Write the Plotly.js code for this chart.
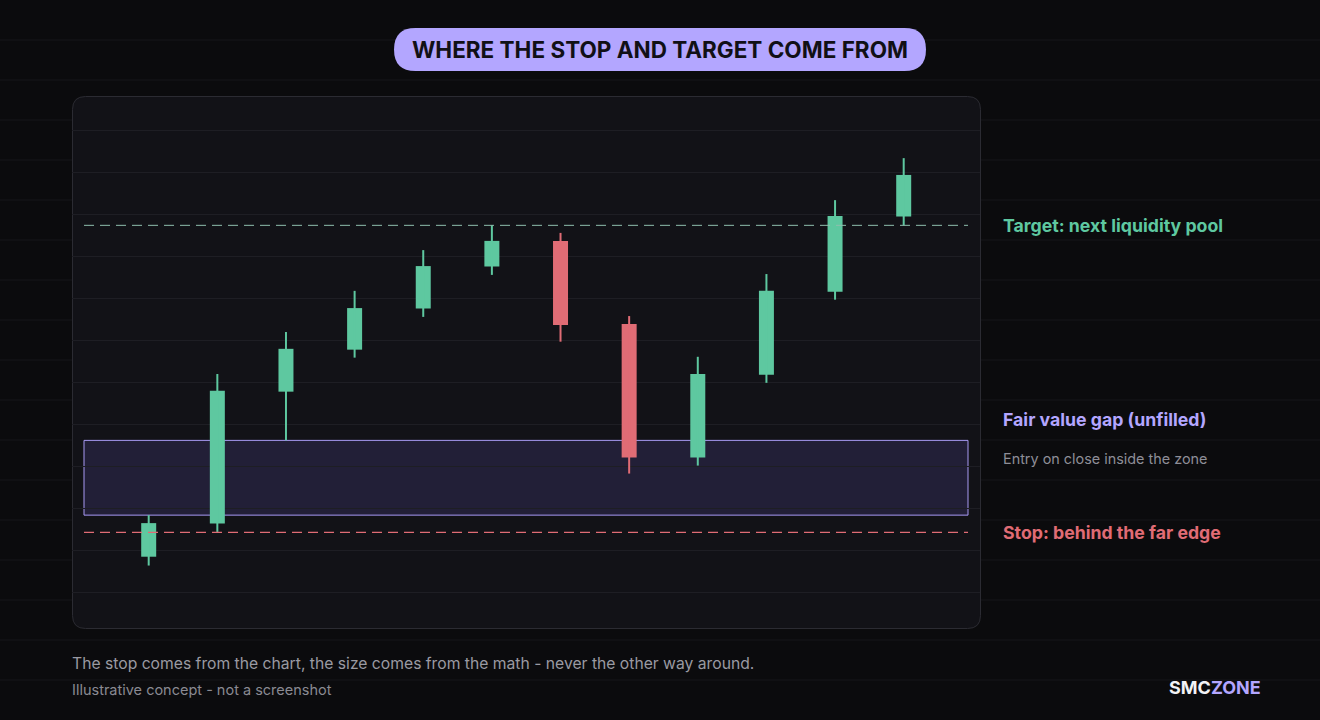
<!DOCTYPE html>
<html>
<head>
<meta charset="utf-8">
<script src="https://cdn.plot.ly/plotly-3.0.1.min.js"></script>
<style>
html, body { margin: 0; padding: 0; background: #0b0b0d; }
#chart { width: 1320px; height: 720px; }
</style>
</head>
<body>
<div id="chart"></div>
<script>
// candles, left to right (price units are arbitrary)
let candleIdx = [0, 1, 2, 3, 4, 5, 6, 7, 8, 9, 10, 11];
let opens  = [8.4, 16.3, 47.7, 57.7, 67.5, 77.5, 83.6, 63.8, 32.0, 51.7, 71.5, 89.4];
let highs  = [18.3, 51.9, 61.9, 71.7, 81.4, 87.3, 85.5, 65.7, 56.0, 75.7, 93.3, 103.3];
let lows   = [6.3, 14.3, 36.1, 55.8, 65.5, 75.5, 59.6, 28.2, 30.1, 49.8, 69.6, 87.3];
let closes = [16.4, 47.9, 57.9, 67.6, 77.6, 83.6, 63.6, 32.0, 51.9, 71.7, 89.5, 99.3];

// levels drawn over the candles
let fvgTop = 36.1;      // low of candle 3
let fvgBottom = 18.3;   // high of candle 1
let targetLevel = 87.3;
let stopLevel = 14.2;

// texts
let titleText = 'WHERE THE STOP AND TARGET COME FROM';
let targetLabel = 'Target: next liquidity pool';
let fvgLabel = 'Fair value gap (unfilled)';
let entryLabel = 'Entry on close inside the zone';
let stopLabel = 'Stop: behind the far edge';
let footNote = 'The stop comes from the chart, the size comes from the math - never the other way around.';
let subNote = 'Illustrative concept - not a screenshot';

const W = 1320, H = 720;
const GREEN = '#5ec8a0', RED = '#e06c75', PURPLE = '#b3a6ff';
const FONT = 'Inter, Roboto, sans-serif';

// pixel -> paper helpers (margins are zero so paper == page)
function px(x){ return x / W; }
function py(y){ return 1 - y / H; }

// rounded rectangle as an svg path in paper units
function roundRect(x0, y0, x1, y1, r){
    let rx = r / W, ry = r / H;
    let a = px(x0), b = px(x1), t = py(y0), d = py(y1);
    return 'M' + (a + rx) + ',' + t +
        ' L' + (b - rx) + ',' + t +
        ' Q' + b + ',' + t + ' ' + b + ',' + (t - ry) +
        ' L' + b + ',' + (d + ry) +
        ' Q' + b + ',' + d + ' ' + (b - rx) + ',' + d +
        ' L' + (a + rx) + ',' + d +
        ' Q' + a + ',' + d + ' ' + a + ',' + (d + ry) +
        ' L' + a + ',' + (t - ry) +
        ' Q' + a + ',' + t + ' ' + (a + rx) + ',' + t + ' Z';
}

// split into up / down candles
let up = candleIdx.filter(i => closes[i] >= opens[i]);
let down = candleIdx.filter(i => closes[i] < opens[i]);

function wickTrace(idx, color){
    let x = [], y = [];
    idx.forEach(i => {
        x.push(i, i, null);
        y.push(lows[i], highs[i], null);
    });
    return {
        x: x, y: y, type: 'scatter', mode: 'lines',
        line: {color: color, width: 2},
        hoverinfo: 'skip', showlegend: false
    };
}

let bodies = {
    x: candleIdx,
    y: candleIdx.map(i => Math.abs(closes[i] - opens[i])),
    base: candleIdx.map(i => Math.min(opens[i], closes[i])),
    type: 'bar',
    width: 0.2185,
    marker: {color: candleIdx.map(i => closes[i] >= opens[i] ? GREEN : RED), line: {width: 0}},
    hoverinfo: 'skip', showlegend: false
};

let shapes = [];

// faint page rules every 40px
for(let y = 40; y < H; y += 40){
    shapes.push({type: 'line', xref: 'paper', yref: 'paper', x0: 0, x1: 1, y0: py(y), y1: py(y),
        line: {color: '#17171b', width: 1}, layer: 'below'});
}

// chart panel
shapes.push({type: 'path', xref: 'paper', yref: 'paper', path: roundRect(72.5, 96.5, 980.5, 628.5, 13),
    fillcolor: '#121217', line: {color: '#2b2b32', width: 1}, layer: 'below'});

// title pill
shapes.push({type: 'path', xref: 'paper', yref: 'paper', path: roundRect(394, 28, 926, 71, 21.5),
    fillcolor: PURPLE, line: {width: 0}, layer: 'below'});

// fair value gap zone
shapes.push({type: 'rect', xref: 'x domain', yref: 'y', x0: 12 / 908, x1: 896 / 908,
    y0: fvgBottom, y1: fvgTop, fillcolor: '#221f37', line: {color: '#a89af5', width: 1}, layer: 'below'});

// target and stop lines
shapes.push({type: 'line', xref: 'x domain', yref: 'y', x0: 12 / 908, x1: 896 / 908,
    y0: targetLevel, y1: targetLevel, line: {color: '#8fbfae', width: 1, dash: '10px,6px'}, layer: 'above'});
shapes.push({type: 'line', xref: 'x domain', yref: 'y', x0: 12 / 908, x1: 896 / 908,
    y0: stopLevel, y1: stopLevel, line: {color: RED, width: 1.2, dash: '10px,6px'}, layer: 'above'});

function label(text, x, y, size, color, yref, opts){
    return Object.assign({
        text: text, x: x, y: y, xref: 'paper', yref: yref || 'paper',
        xanchor: 'left', yanchor: 'middle', showarrow: false,
        font: {family: FONT, size: size, color: color}
    }, opts || {});
}

let annotations = [
    label('<b>' + titleText + '</b>', px(660), py(49.5), 22.5, '#111016', null, {xanchor: 'center'}),
    label('<b>' + targetLabel + '</b>', px(1000.5), targetLevel, 17.7, GREEN, 'y'),
    label('<b>' + fvgLabel + '</b>', px(1000.5), py(419), 17.7, PURPLE),
    label(entryLabel, px(1000.5), py(458), 14.4, '#8e8e97'),
    label('<b>' + stopLabel + '</b>', px(1000.5), stopLevel, 17.7, RED, 'y'),
    label(footNote, px(70), py(663), 15.7, '#9a9aa2'),
    label(subNote, px(70), py(689), 14.5, '#8a8a92'),
    label('<b>SMC<span style="color:' + PURPLE + '">ZONE</span></b>', px(1263), py(687), 18, '#f2f2f5', null, {xanchor: 'right'})
];

let layout = {
    width: W, height: H,
    margin: {l: 0, r: 0, t: 0, b: 0, pad: 0},
    paper_bgcolor: '#0b0b0d',
    plot_bgcolor: 'rgba(0,0,0,0)',
    showlegend: false,
    xaxis: {
        domain: [px(72), px(980)],
        range: [-1.1175, 12.1117],
        showgrid: false, zeroline: false, showticklabels: false, showline: false, fixedrange: true
    },
    yaxis: {
        domain: [py(628), py(96)],
        range: [-8.571, 118.095],
        tick0: 0, dtick: 10,
        showgrid: true, gridcolor: '#1e1e24', gridwidth: 1,
        zeroline: false, showticklabels: false, showline: false, fixedrange: true
    },
    shapes: shapes,
    annotations: annotations
};

Plotly.newPlot('chart', [bodies, wickTrace(up, GREEN), wickTrace(down, RED)], layout,
    {displayModeBar: false, staticPlot: true});
</script>
</body>
</html>
